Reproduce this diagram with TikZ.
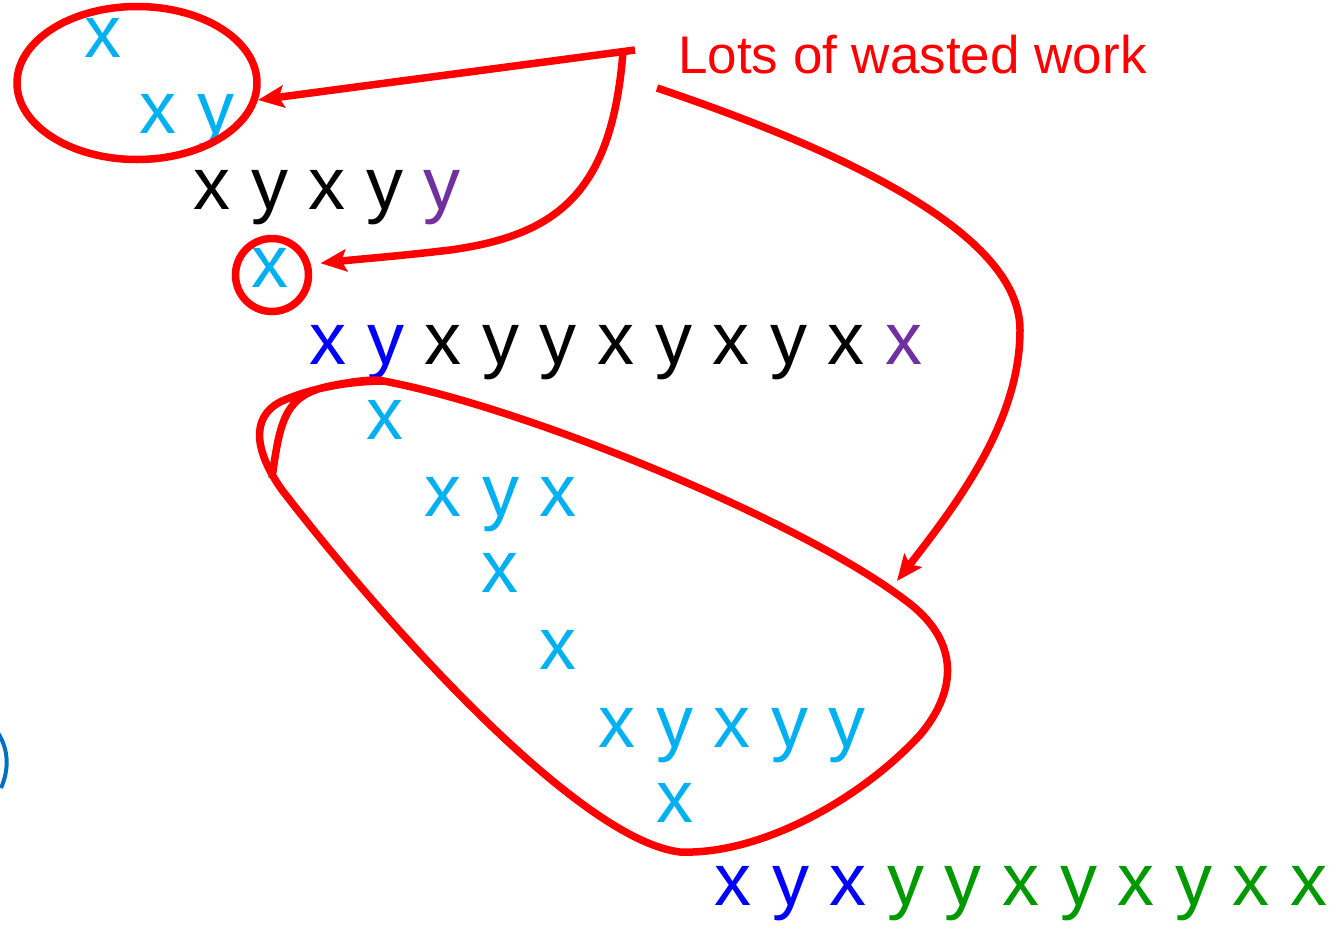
\documentclass[tikz,border=0pt]{standalone}
\usepackage{fontspec}
\setmainfont{Liberation Sans}
\usepackage{tikz}
\usetikzlibrary{arrows.meta,shapes.geometric,positioning}
\usepackage{xcolor}
\definecolor{skyx}{RGB}{0,176,240}
\definecolor{bluex}{RGB}{0,0,255}
\definecolor{purplex}{RGB}{112,48,160}
\definecolor{greenx}{RGB}{0,153,0}
\definecolor{parenblue}{RGB}{0,112,192}
\definecolor{markred}{RGB}{255,0,0}
\tikzstyle{letters} = [font=\fontsize{74}{74}\selectfont, inner sep=0, anchor=base west]
\tikzstyle{redline} = [markred, line width=7.5pt]
\tikzstyle{redarrow} = [redline, -{Stealth[length=26pt,width=22pt,inset=5pt]}]

\begin{document}
\begin{tikzpicture}[x=1pt, y=-1pt]
\useasboundingbox (0,0) rectangle (1343,932);
\clip (0,0) rectangle (1343,932);

% Rows of letters
\node[letters] (row0) at (27,-19) {x y x \textcolor{purplex}{y}};
\node[letters, skyx] (rowA) at (84.5,57) {x};
\node[letters, skyx] (rowB) at (139.5,133) {x y};
\node[letters] (rowC) at (193.5,209) {x y x y \textcolor{purplex}{y}};
\node[letters, skyx] (rowD) at (251.5,287) {x};
\node[letters] (rowE) at (309.5,364) {\textcolor{bluex}{x y} x y y x y x y x \textcolor{purplex}{x}};
\node[letters, skyx] (rowF) at (366.5,439) {x};
\node[letters, skyx] (rowG) at (424.5,516) {x y x};
\node[letters, skyx] (rowH) at (481.5,592) {x};
\node[letters, skyx] (rowI) at (539.5,669) {x};
\node[letters, skyx] (rowJ) at (598.5,747) {x y x y y};
\node[letters, skyx] (rowK) at (656.5,822) {x};
\node[letters, greenx] (rowL) at (714.5,905) {\textcolor{bluex}{x y x} y y x y x y x x};

% Cut-off bracket on the left
\draw[parenblue, line width=4pt] (-2,733) .. controls (9,750) and (9,770) .. (1,788);

% Label
\node[markred, font=\fontsize{53}{53}\selectfont, inner sep=0, anchor=base west] (wasted) at (678,73) {Lots of wasted work};

% Rings round the wasted work
\node[redline, draw, ellipse, minimum width=240, minimum height=153, inner sep=0] (loopA) at (137,83) {};
\node[redline, draw, circle, minimum size=73, inner sep=0] (loopD) at (272,275) {};
\draw[redline] (272,478) .. controls (280,420) and (285,395) .. (330,386)
  .. controls (350,382) and (365,380) .. (378,380)
  .. controls (520,405) and (800,520) .. (905,600)
  .. controls (960,640) and (958,690) .. (920,735)
  .. controls (860,800) and (760,855) .. (680,852)
  .. controls (580,840) and (390,630) .. (282,490)
  .. controls (255,452) and (250,418) .. (280,402)
  .. controls (310,388) and (350,381) .. (385,381);

% Arrows
\coordinate (srcA) at (635,50);
\coordinate (srcD) at (623,52);
\coordinate (srcL) at (657,88);
\coordinate (tipL) at (897,581);
\draw[redarrow] (srcA) -- (loopA.-8);
\draw[redarrow] (srcD) .. controls (612,190) and (560,235) .. (450,250) .. controls (400,256) and (360,259) .. ([xshift=10pt]loopD.17);
\draw[redarrow] (srcL) .. controls (900,170) and (1020,250) .. (1020,330) .. controls (1020,420) and (960,500) .. (tipL);
\end{tikzpicture}
\end{document}
